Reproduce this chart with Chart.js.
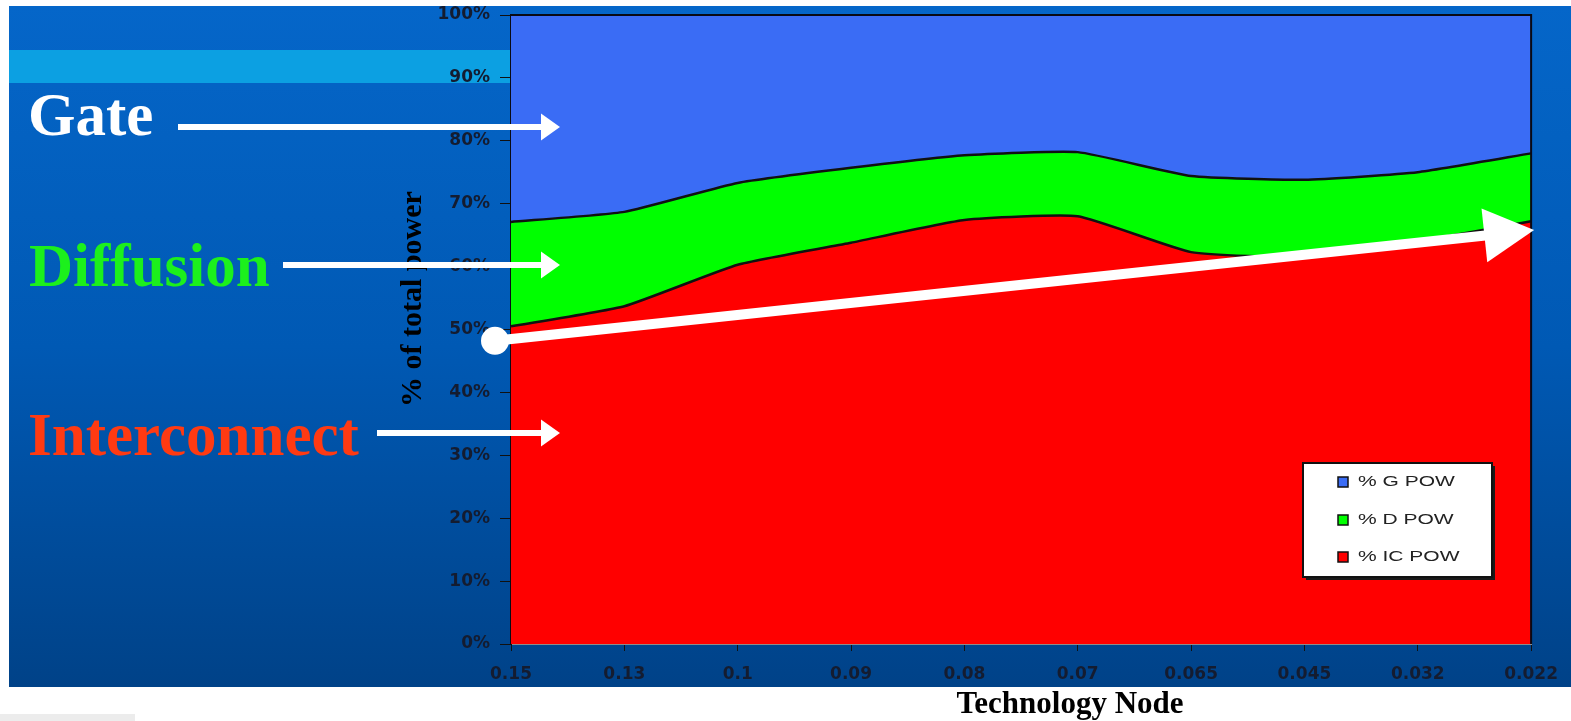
<!DOCTYPE html>
<html>
<head>
<meta charset="utf-8">
<title>% of total power by technology node</title>
<script src="https://cdn.jsdelivr.net/npm/chart.js@4/dist/chart.umd.min.js"></script>
<style>
  html, body { margin: 0; padding: 0; background: #ffffff; }
  #wrap { position: relative; width: 1571px; height: 721px; }
</style>
</head>
<body>
<div id="wrap"><canvas id="powerChart" width="1571" height="721"></canvas></div>
<script>
// categories (technology node, um)
const nodes = ['0.15', '0.13', '0.1', '0.09', '0.08', '0.07', '0.065', '0.045', '0.032', '0.022'];

// share of total power, % (stacked from bottom)
const icPow = [50.5, 53.7, 60.3, 63.8, 67.4, 68.0, 62.3, 61.5, 64.0, 67.2];
const dPow  = [16.6, 15.0, 13.0, 11.9, 10.3, 10.2, 12.1, 12.3, 11.0, 10.8];
const gPow  = [32.9, 31.3, 26.7, 24.3, 22.3, 21.8, 25.6, 26.2, 25.0, 22.0];

// tick labels
const yTickLabels = ['0%', '10%', '20%', '30%', '40%', '50%', '60%', '70%', '80%', '90%', '100%'];

// texts
const seriesNames = ['% IC POW', '% D POW', '% G POW'];
const sideLabels = ['Gate', 'Diffusion', 'Interconnect'];
const yTitle = '% of total power';
const xTitle = 'Technology Node';

// colours
const colIC = '#ff0000';
const colD = '#00ff00';
const colG = '#3a6cf5';

// arrow from a to b with a triangle head
function drawArrow(ctx, x1, y1, x2, y2, lw, headLen, headW) {
    const ang = Math.atan2(y2 - y1, x2 - x1);
    const bx = x2 - headLen * Math.cos(ang);
    const by = y2 - headLen * Math.sin(ang);
    ctx.lineWidth = lw;
    ctx.beginPath();
    ctx.moveTo(x1, y1);
    ctx.lineTo(bx + 1, by);
    ctx.stroke();
    ctx.beginPath();
    ctx.moveTo(x2, y2);
    ctx.lineTo(bx + headW / 2 * Math.sin(ang), by - headW / 2 * Math.cos(ang));
    ctx.lineTo(bx - headW / 2 * Math.sin(ang), by + headW / 2 * Math.cos(ang));
    ctx.closePath();
    ctx.fill();
}

// slide background, annotations and legend box
const slidePlugin = {
    id: 'slide',
    beforeDraw(chart) {
        const ctx = chart.ctx;
        const area = chart.chartArea;
        ctx.save();
        ctx.fillStyle = '#ffffff';
        ctx.fillRect(0, 0, chart.width, chart.height);
        const g = ctx.createLinearGradient(0, 6, 0, 687);
        g.addColorStop(0, '#0566c9');
        g.addColorStop(0.5, '#0059b4');
        g.addColorStop(1, '#004288');
        ctx.fillStyle = g;
        ctx.fillRect(9, 6, 1562, 681);
        ctx.fillStyle = '#0ca0e2';
        ctx.fillRect(9, 50, area.left - 9, 33);
        ctx.fillStyle = '#ececec';
        ctx.fillRect(0, 714, 135, 7);
        ctx.restore();
    },
    afterDraw(chart) {
        const ctx = chart.ctx;
        const area = chart.chartArea;
        const xs = chart.scales.x;
        const ys = chart.scales.y;
        ctx.save();

        // plot frame top / right
        ctx.strokeStyle = '#0a0a14';
        ctx.lineWidth = 2;
        ctx.beginPath();
        ctx.moveTo(area.left, area.top);
        ctx.lineTo(area.right, area.top);
        ctx.lineTo(area.right, area.bottom);
        ctx.stroke();

        // axis titles
        ctx.fillStyle = '#000000';
        ctx.font = 'bold 30px "Liberation Serif", "Times New Roman", serif';
        ctx.textAlign = 'center';
        ctx.textBaseline = 'middle';
        ctx.save();
        ctx.translate(413, 299);
        ctx.rotate(-Math.PI / 2);
        ctx.fillText(yTitle, 0, 0);
        ctx.restore();
        ctx.font = 'bold 31px "Liberation Serif", "Times New Roman", serif';
        ctx.fillText(xTitle, 1070, 705);

        // side labels with arrows
        ctx.font = 'bold 61px "Liberation Serif", "Times New Roman", serif';
        ctx.textAlign = 'left';
        ctx.textBaseline = 'alphabetic';
        ctx.fillStyle = '#ffffff';
        ctx.fillText(sideLabels[0], 28, 135);
        ctx.fillStyle = '#1cf01c';
        ctx.fillText(sideLabels[1], 29, 286);
        ctx.fillStyle = '#ff3a12';
        ctx.fillText(sideLabels[2], 28, 455);

        ctx.strokeStyle = '#ffffff';
        ctx.fillStyle = '#ffffff';
        drawArrow(ctx, 178, 127, 560, 127, 6, 19, 27);
        drawArrow(ctx, 283, 265, 560, 265, 6, 19, 27);
        drawArrow(ctx, 377, 433, 560, 433, 6, 19, 27);

        // trend arrow across the plot
        const sx = xs.getPixelForValue(0) - 16;
        const sy = ys.getPixelForValue(48.2);
        const ex = xs.getPixelForValue(nodes.length - 1) + 3;
        const ey = ys.getPixelForValue(65.8);
        drawArrow(ctx, sx, sy, ex, ey, 10, 50, 54);
        ctx.beginPath();
        ctx.arc(sx, sy, 14, 0, Math.PI * 2);
        ctx.fill();

        // legend box
        const lx = 1303, ly = 463, lw = 189, lh = 114;
        ctx.fillStyle = '#1a1a1a';
        ctx.fillRect(lx + 3, ly + 3, lw, lh);
        ctx.fillStyle = '#ffffff';
        ctx.fillRect(lx, ly, lw, lh);
        ctx.strokeStyle = '#111111';
        ctx.lineWidth = 2;
        ctx.strokeRect(lx, ly, lw, lh);
        const ds = chart.data.datasets;
        const rowY = [482, 520, 557];
        ctx.font = '14px "Liberation Sans", Arial, sans-serif';
        ctx.textBaseline = 'middle';
        for (let i = 0; i < 3; i++) {
            const d = ds[2 - i];
            ctx.fillStyle = d.backgroundColor;
            ctx.fillRect(1338, rowY[i] - 5, 10, 10);
            ctx.strokeStyle = '#111111';
            ctx.lineWidth = 1.5;
            ctx.strokeRect(1338, rowY[i] - 5, 10, 10);
            ctx.save();
            ctx.translate(1358, rowY[i]);
            ctx.scale(1.5, 1);
            ctx.fillStyle = '#222222';
            ctx.fillText(d.label, 0, 0);
            ctx.restore();
        }
        ctx.restore();
    }
};

const tickFont = { family: '"DejaVu Sans", Arial, sans-serif', size: 17, weight: 'bold' };

const powerChart = new Chart(document.getElementById('powerChart'), {
    type: 'line',
    data: {
        labels: nodes,
        datasets: [
            {
                label: seriesNames[0],
                data: icPow,
                backgroundColor: colIC,
                borderColor: '#111111',
                borderWidth: 2.5,
                fill: 'origin',
                pointRadius: 0,
                tension: 0.15
            },
            {
                label: seriesNames[1],
                data: dPow,
                backgroundColor: colD,
                borderColor: '#111111',
                borderWidth: 2.5,
                fill: '-1',
                pointRadius: 0,
                tension: 0.15
            },
            {
                label: seriesNames[2],
                data: gPow,
                backgroundColor: colG,
                borderColor: '#111111',
                borderWidth: 2,
                fill: '-1',
                pointRadius: 0,
                tension: 0.15
            }
        ]
    },
    options: {
        responsive: false,
        animation: false,
        events: [],
        layout: {
            padding: { left: 430, right: 37, top: 15, bottom: 37 }
        },
        plugins: {
            legend: { display: false },
            tooltip: { enabled: false },
            filler: { propagate: false }
        },
        scales: {
            x: {
                offset: false,
                grid: {
                    display: true,
                    drawOnChartArea: false,
                    drawTicks: true,
                    tickLength: 7,
                    color: '#111111'
                },
                border: { display: true, color: '#8c8c8c', width: 2 },
                ticks: {
                    font: tickFont,
                    color: '#141c30',
                    padding: 13,
                    maxRotation: 0,
                    autoSkip: false
                },
                afterFit: function(scale) { scale.height = 40; }
            },
            y: {
                stacked: true,
                min: 0,
                max: 100,
                grid: {
                    display: true,
                    drawOnChartArea: false,
                    drawTicks: true,
                    tickLength: 11,
                    color: '#111111'
                },
                border: { display: true, color: '#0a0a14', width: 2 },
                ticks: {
                    stepSize: 10,
                    font: tickFont,
                    color: '#141c30',
                    padding: 10,
                    callback: function(value, index) {
                        return yTickLabels[index];
                    }
                },
                afterFit: function(scale) {
                    scale.width = 81;
                    scale.paddingTop = 0;
                    scale.paddingBottom = 0;
                }
            }
        }
    },
    plugins: [slidePlugin]
});
</script>
</body>
</html>
